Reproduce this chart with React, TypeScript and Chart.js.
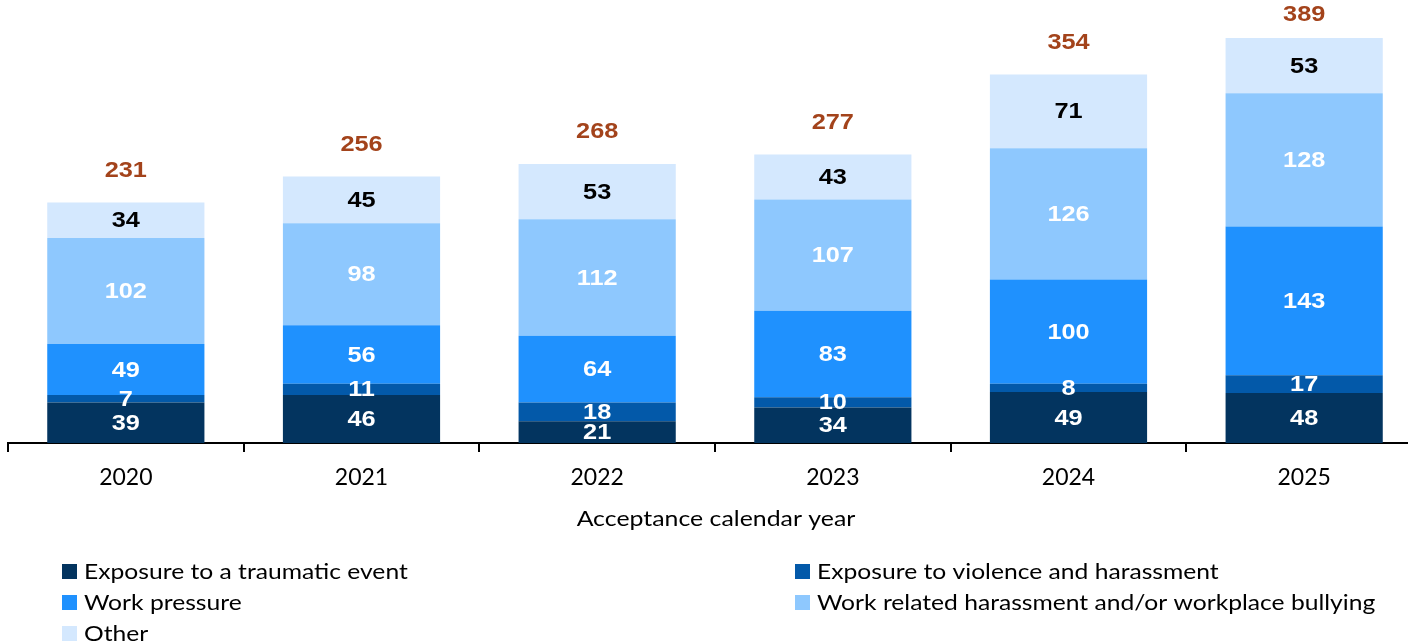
import React, { useEffect, useRef } from "react";
import { Chart, registerables } from "chart.js";

Chart.register(...registerables);

const years = ["2020", "2021", "2022", "2023", "2024", "2025"];
const traumatic = [39, 46, 21, 34, 49, 48];
const violence = [7, 11, 18, 10, 8, 17];
const workPressure = [49, 56, 64, 83, 100, 143];
const bullying = [102, 98, 112, 107, 126, 128];
const other = [34, 45, 53, 43, 71, 53];

const seriesNames = [
  "Exposure to a traumatic event",
  "Exposure to violence and harassment",
  "Work pressure",
  "Work related harassment and/or workplace bullying",
  "Other",
];
const seriesColors = ["#03345F", "#0359A9", "#1F91FE", "#8EC8FE", "#D4E8FE"];
const labelColors = ["#ffffff", "#ffffff", "#ffffff", "#ffffff", "#000000"];
const xTitle = "Acceptance calendar year";
const totalColor = "#A3431B";

const TEXT_FONT = "Lato, 'Open Sans', sans-serif";
const LABEL_FONT = "'Liberation Sans', Arial, sans-serif";

function stretchText(ctx: any, text: string, x: number, y: number, sx: number) {
  ctx.save();
  ctx.translate(x, y);
  ctx.scale(sx, 1);
  ctx.fillText(text, 0, 0);
  ctx.restore();
}

const labelsPlugin = {
  id: "customLabels",
  afterDatasetsDraw(chart: any) {
    const ctx = chart.ctx;
    ctx.save();
    ctx.textAlign = "center";
    ctx.textBaseline = "middle";
    ctx.font = `bold 22px ${LABEL_FONT}`;
    const tops: number[] = [];
    chart.data.datasets.forEach((ds: any, di: number) => {
      const meta = chart.getDatasetMeta(di);
      meta.data.forEach((bar: any, i: number) => {
        const cy = (bar.y + bar.base) / 2;
        ctx.fillStyle = labelColors[di];
        stretchText(ctx, String(ds.data[i]), bar.x, cy + 1, 1.15);
        if (tops[i] === undefined || bar.y < tops[i]) tops[i] = bar.y;
      });
    });
    ctx.fillStyle = totalColor;
    const meta0 = chart.getDatasetMeta(0);
    meta0.data.forEach((bar: any, i: number) => {
      const total = chart.data.datasets.reduce((s: number, d: any) => s + d.data[i], 0);
      const y = Math.max(15, tops[i] - 32);
      stretchText(ctx, String(total), bar.x, y, 1.15);
    });
    ctx.restore();
  },
  afterDraw(chart: any) {
    const ctx = chart.ctx;
    ctx.save();
    ctx.fillStyle = "#000";
    ctx.textBaseline = "middle";
    ctx.textAlign = "center";
    ctx.font = `22px ${TEXT_FONT}`;
    stretchText(ctx, xTitle, 716, 519, 1.13);
    // legend
    ctx.textAlign = "left";
    const pos = [
      [62, 572],
      [795, 572],
      [62, 603],
      [795, 603],
      [62, 634],
    ];
    seriesNames.forEach((name, i) => {
      const [x, y] = pos[i];
      ctx.fillStyle = seriesColors[i];
      ctx.fillRect(x, y - 8, 15, 15);
      ctx.fillStyle = "#000";
      stretchText(ctx, name, x + 22, y, 1.12);
    });
    ctx.restore();
  },
};

export default function App() {
  const ref = useRef<HTMLCanvasElement | null>(null);
  useEffect(() => {
    if (!ref.current) return;
    const data = [traumatic, violence, workPressure, bullying, other];
    const chart = new Chart(ref.current, {
      type: "bar",
      data: {
        labels: years,
        datasets: data.map((d, i) => ({
          label: seriesNames[i],
          data: d,
          backgroundColor: seriesColors[i],
          borderWidth: 0,
          categoryPercentage: 1,
          barPercentage: 0.667,
        })),
      },
      options: {
        responsive: false,
        animation: false,
        layout: { padding: { left: 8, right: 0, top: 0, bottom: 117 } },
        plugins: {
          legend: { display: false },
          tooltip: { enabled: false },
          title: { display: false },
        },
        scales: {
          x: {
            stacked: true,
            afterFit: (scale: any) => {
              scale.height = 100;
            },
            grid: {
              drawOnChartArea: false,
              drawTicks: true,
              tickLength: 9,
              color: "#000",
              lineWidth: 2,
              offset: true,
            },
            border: { display: true, color: "#000", width: 2 },
            ticks: {
              color: "#000",
              font: { family: TEXT_FONT, size: 23 },
              padding: 12,
              maxRotation: 0,
            },
          },
          y: {
            stacked: true,
            display: false,
            min: 0,
            max: 425.5,
          },
        },
      },
      plugins: [labelsPlugin],
    });
    return () => chart.destroy();
  }, []);

  return (
    <div
      style={{
        position: "fixed",
        left: 0,
        top: 0,
        width: 1408,
        height: 644,
        overflow: "hidden",
        background: "#fff",
      }}
    >
      <canvas ref={ref} width={1422} height={660} style={{ display: "block", width: 1422, height: 660 }} />
    </div>
  );
}
